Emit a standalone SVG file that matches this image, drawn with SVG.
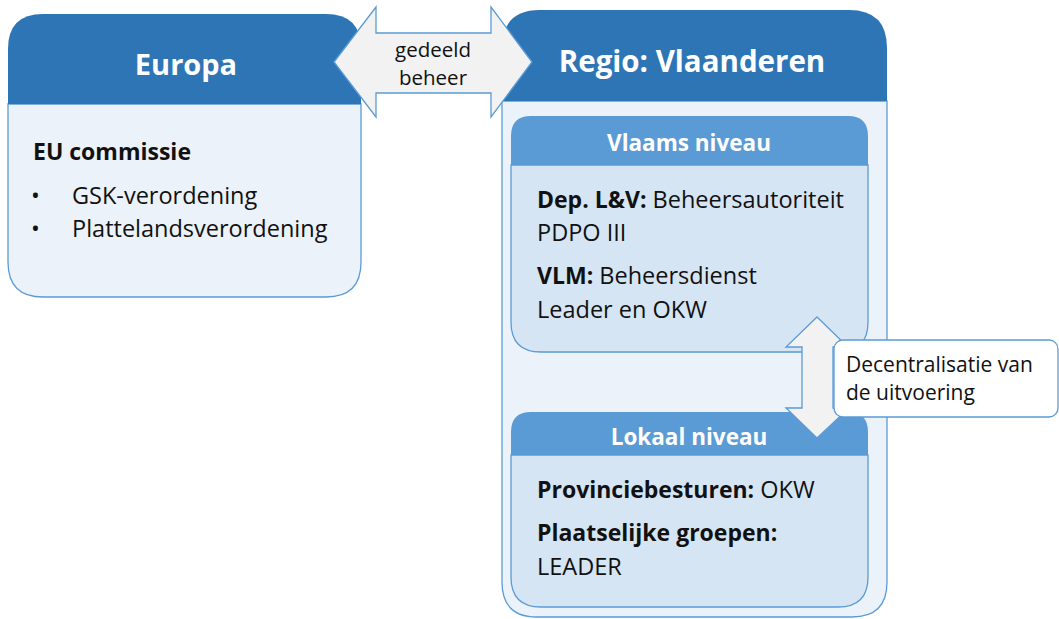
<svg xmlns="http://www.w3.org/2000/svg" width="1059" height="619" viewBox="0 0 1059 619">
<style>
.hdr{fill:#2e75b6}
.hdr2{fill:#5b9bd5}
.body{fill:#ebf2fa;stroke:#5b9bd5;stroke-width:1.3}
.body2{fill:#d6e5f4;stroke:#5b9bd5;stroke-width:1.3}
.arrow{fill:#f2f2f2;stroke:#5b9bd5;stroke-width:1.3}
.t{font-family:"Open Sans","Liberation Sans",sans-serif;fill:#111}
.b{font-weight:bold;font-size:23px}
.w{fill:#fff;font-weight:bold}
.s{font-size:23.5px}
</style>
<rect width="1059" height="619" fill="#fff"/>
<g id="europa">
<path class="body" d="M8 104 H361 V262 Q361 297 326 297 H43 Q8 297 8 262 Z"/>
<path class="hdr" d="M8 104 V49 Q8 14 43 14 H326 Q361 14 361 49 V104 Z"/>
<text class="t w" x="186" y="75" font-size="29" text-anchor="middle">Europa</text>
<text class="t b" x="33" y="160">EU commissie</text>
<text class="t" x="31" y="204" font-size="23.5">•</text>
<text class="t s" x="72" y="204">GSK-verordening</text>
<text class="t" x="31" y="237" font-size="23.5">•</text>
<text class="t s" x="72" y="237">Plattelandsverordening</text>
</g>
<g id="regio">
<path class="body" d="M502 101 H887 V582 Q887 617 852 617 H537 Q502 617 502 582 Z"/>
<path class="hdr" d="M502 101 V48 Q502 10 540 10 H849 Q887 10 887 48 V101 Z"/>
<text class="t w" x="692" y="72" font-size="29.5" text-anchor="middle">Regio: Vlaanderen</text>
</g>
<g id="vlaams">
<path class="body2" d="M511 165 H868 V322 Q868 352 838 352 H541 Q511 352 511 322 Z"/>
<path class="hdr2" d="M511 165 V136 Q511 116 531 116 H848 Q868 116 868 136 V165 Z"/>
<text class="t w" x="689" y="151" font-size="22.5" text-anchor="middle">Vlaams niveau</text>
<text class="t s" x="537" y="208"><tspan class="b">Dep. L&amp;V:</tspan> Beheersautoriteit</text>
<text class="t s" x="537" y="241">PDPO III</text>
<text class="t s" x="537" y="284"><tspan class="b">VLM:</tspan> Beheersdienst</text>
<text class="t s" x="537" y="318">Leader en OKW</text>
</g>
<g id="lokaal">
<path class="body2" d="M511 455 H868 V577 Q868 607 838 607 H541 Q511 607 511 577 Z"/>
<path class="hdr2" d="M511 455 V432 Q511 412 531 412 H848 Q868 412 868 432 V455 Z"/>
<text class="t w" x="689" y="445" font-size="22.5" text-anchor="middle">Lokaal niveau</text>
<text class="t s" x="537" y="498"><tspan class="b">Provinciebesturen:</tspan> OKW</text>
<text class="t b" x="537" y="541">Plaatselijke groepen:</text>
<text class="t s" x="537" y="575">LEADER</text>
</g>
<g id="connectors">
<g id="gedeeld-beheer">
<polygon class="arrow" points="334,62 376,7 376,33 491,33 491,7 532,62 491,117 491,93 376,93 376,117"/>
<text class="t" x="433" y="57" font-size="20.5" text-anchor="middle">gedeeld</text>
<text class="t" x="433" y="85" font-size="20.5" text-anchor="middle">beheer</text>
</g>
<g id="decentralisatie">
<polygon class="arrow" points="817,317 848,347 833,347 833,408 849,408 817,438 786,408 802,408 802,347 786,347"/>
<rect x="834" y="340" width="224" height="77" rx="9" fill="#fff" stroke="#5b9bd5" stroke-width="1.3"/>
<text class="t" x="846" y="372" font-size="21">Decentralisatie van</text>
<text class="t" x="846" y="400" font-size="21">de uitvoering</text>
</g>
</g>
</svg>
